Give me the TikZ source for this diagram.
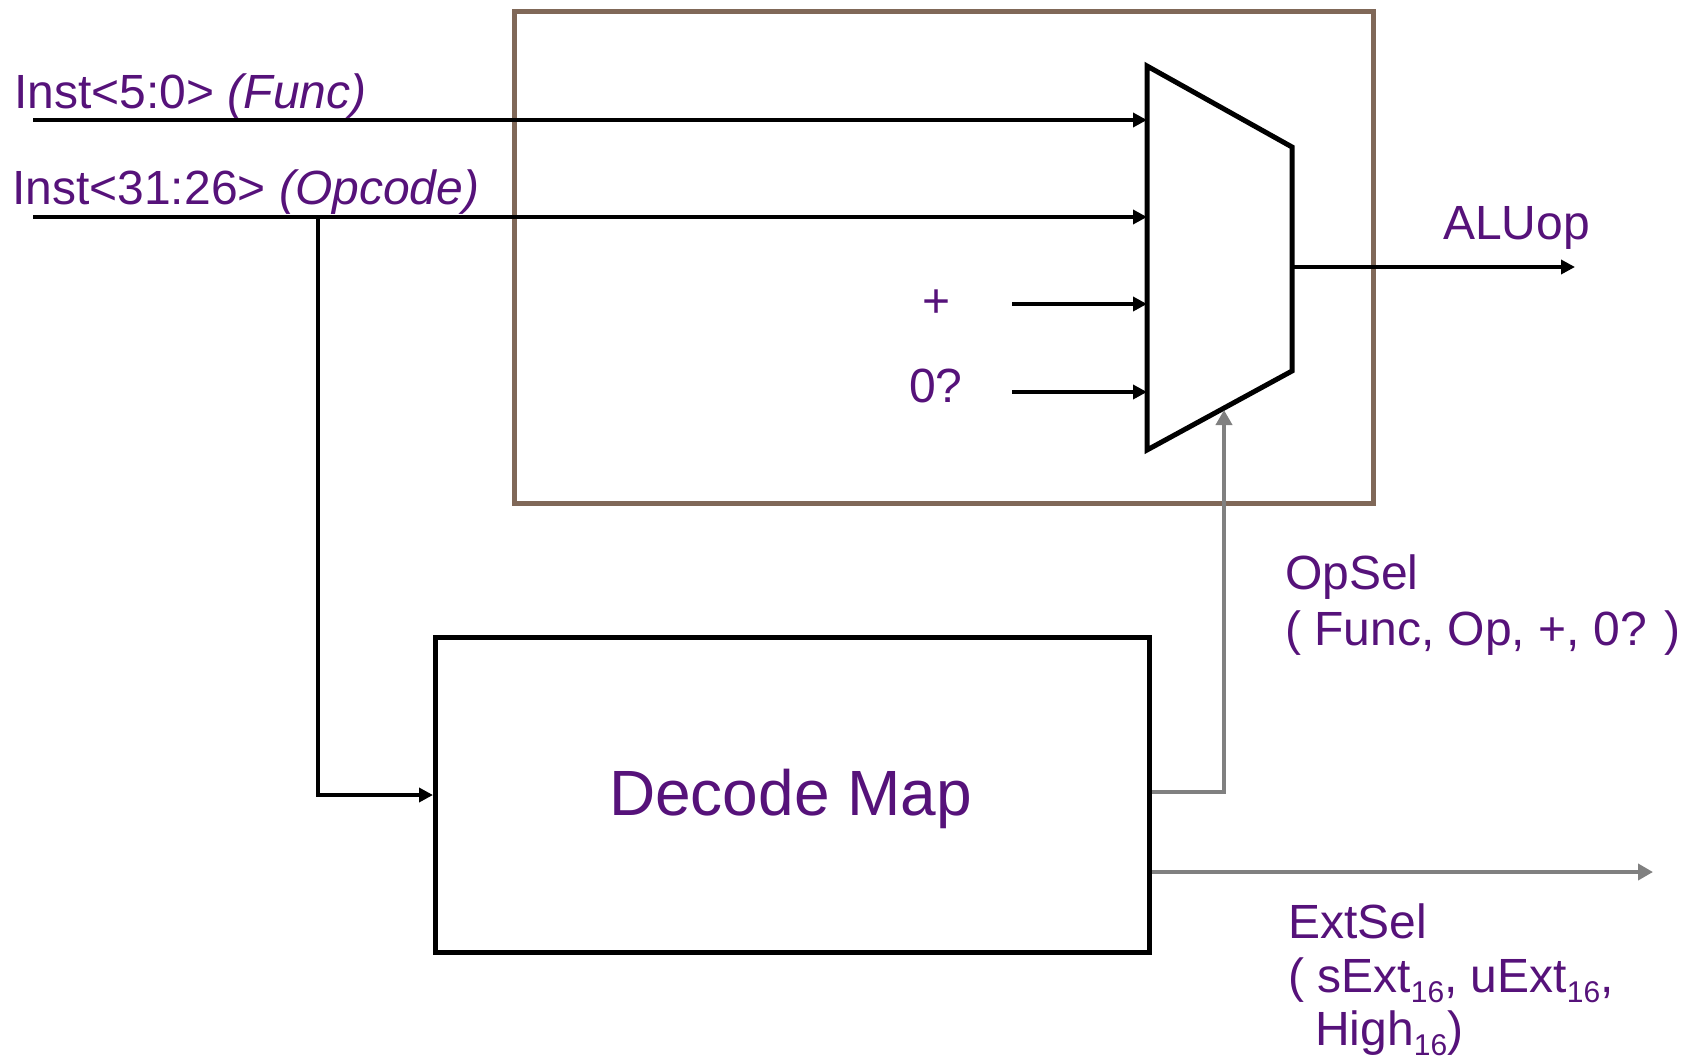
\documentclass[tikz,border=0pt]{standalone}
\usepackage{fontspec}
\setmainfont{Liberation Sans}
\usetikzlibrary{arrows.meta}
\definecolor{txtpurple}{RGB}{86,18,122}
\definecolor{boxbrown}{RGB}{128,104,88}
\definecolor{wiregray}{RGB}{128,128,128}
\newcommand{\subsix}{\raisebox{-10pt}{\fontsize{30}{30}\selectfont 16}}
\begin{document}
\begin{tikzpicture}[x=1pt,y=-1pt,
  wire/.style={line width=4.5pt,black,-{Triangle[length=14pt,width=14pt]}},
  graywire/.style={line width=4.5pt,wiregray,-{Triangle[length=15pt,width=16pt]}},
  lbl/.style={text=txtpurple,inner sep=0pt,font=\fontsize{48}{56}\selectfont},
  biglbl/.style={text=txtpurple,inner sep=0pt,font=\fontsize{64}{72}\selectfont},
  blockbox/.style={draw=black,line width=5pt,inner sep=0pt}]
\useasboundingbox (0,0) rectangle (1693,1062);

% outer brown box
\node[draw=boxbrown,line width=5pt,inner sep=0pt,minimum width=859pt,minimum height=492pt,anchor=north west] (outer) at (512,9) {};

% mux
\coordinate (mTL) at (1147,66);
\coordinate (mTR) at (1292,147);
\coordinate (mBR) at (1292,371);
\coordinate (mBL) at (1147,450);
\draw[line width=5pt,line join=miter] (mTL) -- (mTR) -- (mBR) -- (mBL) -- cycle;
\coordinate (in1) at (1147,120);
\coordinate (in2) at (1147,217);
\coordinate (in3) at (1147,304);
\coordinate (in4) at (1147,392);
\coordinate (mout) at (1292,267);
\coordinate (msel) at (1224,410);

% decode box
\node[blockbox,minimum width=714pt,minimum height=315pt,anchor=north west] (dec) at (433,635) {};
\node[biglbl,anchor=base] (declbl) at (790.5,815) {Decode Map};

% input wires
\coordinate (fstart) at (33,120);
\coordinate (ostart) at (33,217);
\coordinate (obranch) at (318,217);
\coordinate (pstart) at (1012,304);
\coordinate (zstart) at (1012,392);
\coordinate (aluend) at (1575,267);
\coordinate (opselcorner) at (1224,792);
\coordinate (extend) at (1653,872);

\draw[wire] (fstart) -- (in1);
\draw[wire] (ostart) -- (in2);
\draw[wire] (obranch) |- (dec.west);
\draw[wire] (pstart) -- (in3);
\draw[wire] (zstart) -- (in4);
\draw[wire] (mout) -- (aluend);
\draw[graywire] (dec.east |- opselcorner) -- (opselcorner) -- (msel);
\draw[graywire] (dec.east |- extend) -- (extend);

% labels
\node[lbl,anchor=base west] (lfunc) at (14,109) {Inst<5:0> \textit{(Func)}};
\node[lbl,anchor=base west] (lop) at (12,204) {Inst<31:26> \textit{(Opcode)}};
\node[lbl,anchor=base west] (lalu) at (1443,239) {ALUop};
\node[lbl,anchor=base] (lplus) at (937,317) {+};
\node[lbl,anchor=base west] (lzero) at (909,402) {0?};
\node[lbl,anchor=base west] (lopsel1) at (1285,589) {OpSel};
\node[lbl,anchor=base west] (lopsel2) at (1285,645) {( Func, Op, +, 0? )};
\node[lbl,anchor=base west] (lext1) at (1288,938) {ExtSel};
\node[lbl,anchor=base west] (lext2) at (1288,992) {( sExt\subsix, uExt\subsix,};
\node[lbl,anchor=base west] (lext3) at (1315,1045) {High\subsix)};
\end{tikzpicture}
\end{document}
